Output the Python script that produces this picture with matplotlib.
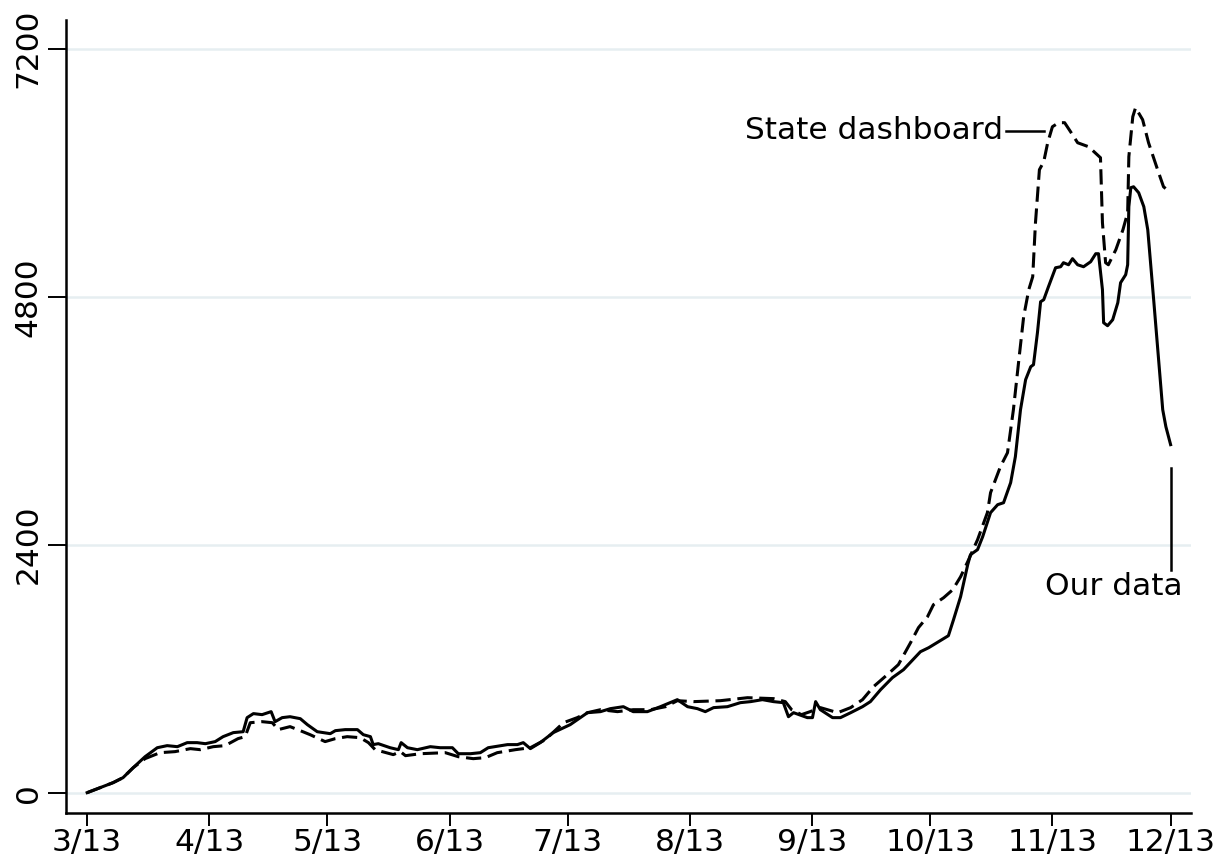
import pandas as pd
import matplotlib.pyplot as plt

# days since 3/13 and daily counts
ourDays = [0, 3.3, 6.6, 9.1, 11.7, 14.7, 17.8, 20.3, 22.9, 25.4, 27.9, 30.0, 32.5, 34.5, 37.1, 39.6,
           40.6, 42.2, 44.4, 46.7, 47.7, 49.5, 51.5, 54.1, 55.9, 58.4, 61.7, 63.0, 65.5, 68.6, 70.1,
           71.9, 72.6, 73.9, 76.9, 79.0, 79.7, 81.3, 83.8, 87.1, 89.6, 92.7, 94.2, 97.3, 99.8, 101.8,
           106.7, 109.2, 110.7, 112.5, 115.0, 118.3, 122.6, 127.0, 130.3, 132.8, 136.1, 138.6, 142.2,
           145.5, 148.0, 149.8, 152.4, 154.9, 156.9, 159.0, 162.5, 165.8, 168.4, 171.4, 174.2, 176.7,
           178.0, 179.3, 182.8, 184.1, 184.9, 186.1, 189.2, 191.2, 193.8, 196.8, 198.8, 201.4, 204.4,
           207.2, 211.5, 213.6, 216.1, 218.6, 219.9, 221.7, 223.5, 224.2, 226.0, 227.3, 229.3, 231.1,
           232.6, 234.4, 235.6, 236.9, 238.2, 239.5, 240.2, 241.2, 242.0, 242.8, 244.0, 245.8, 247.1,
           247.8, 249.1, 250.1, 251.4, 252.9, 254.7, 256.0, 256.7, 257.7, 258.0, 259.0, 260.3, 261.6,
           262.3, 263.6, 264.1, 264.4, 264.9, 265.6, 266.9, 268.2, 269.2, 270.7, 273.0, 273.8, 275.0]
ourCases = [0, 48, 97, 145, 242, 348, 435, 455, 445, 484, 484, 474, 494, 542, 581, 590,
            726, 765, 755, 784, 687, 726, 735, 716, 658, 590, 571, 600, 610, 610, 561,
            542, 465, 474, 435, 416, 484, 435, 416, 445, 435, 435, 377, 377, 387, 435,
            465, 465, 484, 426, 484, 581, 658, 774, 784, 813, 832, 784, 784,
            832, 871, 900, 832, 813, 784, 823, 832, 871, 881, 900, 881, 871,
            735, 774, 726, 726, 881, 803, 726, 726, 774, 832, 881, 997, 1113,
            1190, 1364, 1403, 1461, 1519, 1674, 1897, 2206, 2303, 2352, 2477, 2710, 2787,
            2806, 3000, 3252, 3706, 3997, 4122, 4142, 4451, 4751, 4771, 4897, 5080, 5090,
            5129, 5109, 5168, 5109, 5090, 5138, 5216, 5216, 4868, 4548, 4519, 4577, 4742,
            4935, 5013, 5109, 5671, 5855, 5864, 5806, 5671, 5448, 4771, 3706, 3542, 3368]

stateDays = [0, 3.3, 6.6, 9.1, 11.7, 14.7, 18.5, 22.3, 26.2, 28.7, 32.0, 35.0, 38.3, 40.1, 41.4,
             44.4, 47.0, 48.5, 51.5, 54.1, 56.6, 60.4, 63.0, 66.0, 69.3, 71.4, 73.1, 77.7, 79.5,
             80.8, 84.6, 90.9, 94.2, 98.0, 101.1, 104.1, 108.7, 112.5, 116.3, 120.9, 124.4, 127.0,
             130.3, 134.6, 138.6, 143.0, 146.8, 149.8, 153.9, 160.7, 167.6, 174.2, 177.2, 178.8,
             181.3, 183.5, 186.1, 187.9, 190.5, 193.8, 196.8, 199.6, 203.4, 205.9, 209.0, 211.0,
             213.3, 214.8, 217.4, 219.7, 221.7, 223.5, 226.0, 228.5, 229.3, 231.8, 233.6, 235.1,
             236.4, 237.7, 239.0, 240.0, 240.7, 241.7, 242.8, 243.8, 245.0, 246.6, 248.1, 249.6,
             251.4, 254.2, 257.2, 257.7, 258.5, 259.2, 261.1, 262.9, 264.1, 264.4, 265.4, 266.1,
             267.9, 269.4, 271.7, 273.2, 275.0]
stateCases = [0, 48, 97, 145, 242, 329, 387, 397, 426, 416, 445, 455, 523, 542, 677,
              687, 677, 610, 639, 600, 561, 494, 523, 542, 532, 484, 416, 368, 397,
              358, 377, 387, 348, 329, 339, 387, 416, 435, 513, 677, 726, 774,
              803, 784, 803, 803, 832, 890, 881, 890, 919, 910, 881, 803,
              755, 784, 823, 803, 774, 823, 900, 1026, 1152, 1239, 1452, 1597,
              1703, 1819, 1887, 1964, 2090, 2235, 2448, 2710, 2903, 3155, 3290, 3706,
              4161, 4606, 4868, 4993, 5516, 6029, 6106, 6290, 6445, 6484, 6484, 6397,
              6290, 6251, 6145, 5516, 5129, 5109, 5255, 5448, 5613, 6155, 6542, 6629,
              6513, 6290, 6029, 5864, 5806]

yTicks = [0, 2400, 4800, 7200]
start = pd.Timestamp('2020-03-13')
monthTicks = pd.date_range('2020-03-13', '2020-12-13', freq=pd.DateOffset(months=1))

ourDates = start + pd.to_timedelta(ourDays, unit='D')
stateDates = start + pd.to_timedelta(stateDays, unit='D')

fig = plt.figure(figsize=(12.25, 8.6), dpi=100)
ax = fig.add_axes([0.054, 0.055, 0.918, 0.922])

for t in yTicks:
    ax.axhline(t, color='#e6eef1', linewidth=1.8, zorder=0)

ax.plot(ourDates, ourCases, color='black', linewidth=2.2, solid_joinstyle='round')
ax.plot(stateDates, stateCases, color='black', linewidth=2.2, linestyle=(0, (5, 2.2)))

# labels with leader lines
ax.plot([start + pd.Timedelta(days=233.1), start + pd.Timedelta(days=242.8)], [6406, 6406],
        color='black', linewidth=1.8)
ax.text(start + pd.Timedelta(days=232.6), 6406, 'State dashboard', fontsize=22.5,
        ha='right', va='center')
ax.plot([start + pd.Timedelta(days=275), start + pd.Timedelta(days=275)], [3145, 2158],
        color='black', linewidth=1.8)
ax.text(start + pd.Timedelta(days=260.5), 1993, 'Our data', fontsize=22.5,
        ha='center', va='center')

ax.set_xlim(start - pd.Timedelta(days=5.33), start + pd.Timedelta(days=280.1))
ax.set_ylim(-194, 7480)
ax.set_xticks(monthTicks)
ax.set_xticklabels([f'{d.month}/{d.day}' for d in monthTicks])
ax.set_yticks(yTicks)
ax.set_yticklabels([str(t) for t in yTicks], rotation=90, va='center')
ax.tick_params(axis='both', labelsize=22.5, length=9, width=1.4, pad=2)
ax.tick_params(axis='y', length=13, pad=4)
ax.spines['top'].set_visible(False)
ax.spines['right'].set_visible(False)
ax.spines['left'].set_linewidth(1.8)
ax.spines['bottom'].set_linewidth(1.8)

fig.savefig('out.png', dpi=100)
